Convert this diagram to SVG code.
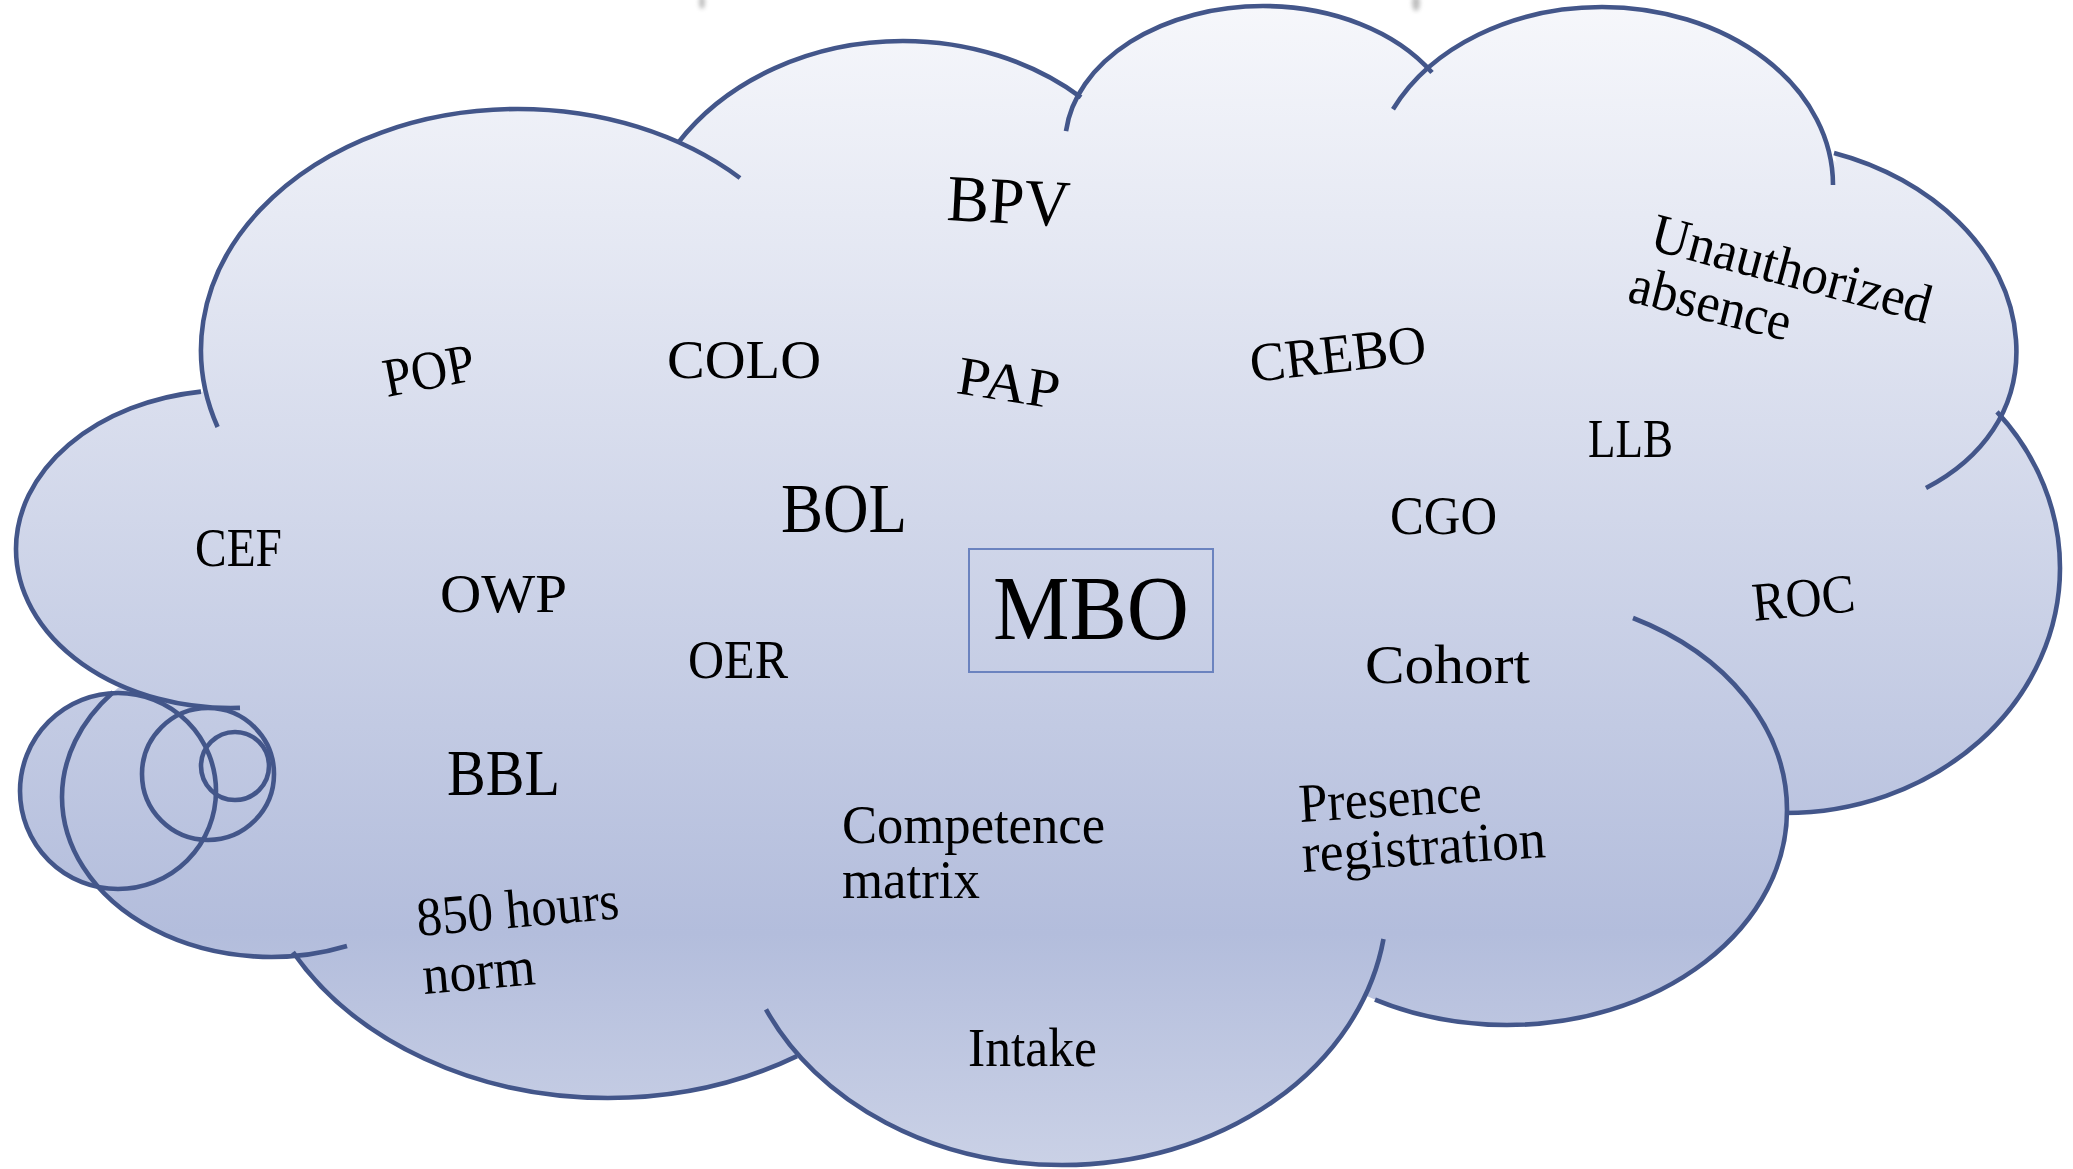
<svg xmlns="http://www.w3.org/2000/svg" width="2073" height="1169" viewBox="0 0 2073 1169">
  <defs>
    <linearGradient id="cloudFill" gradientUnits="userSpaceOnUse" x1="0" y1="7" x2="0" y2="1165">
      <stop offset="0" stop-color="#f6f7fb"/>
      <stop offset="0.8" stop-color="#b3bddc"/>
      <stop offset="1" stop-color="#cad1e6"/>
    </linearGradient>
    <filter id="smudge" x="-2" y="-2" width="5" height="5">
      <feGaussianBlur stdDeviation="2.2"/>
    </filter>
    <style>
      .body { fill: url(#cloudFill); stroke: none; }
      .outline { fill: none; stroke: #43568a; stroke-width: 4.6; }
      .lbl { font-family: "Liberation Serif", "Times New Roman", serif; fill: #000; }
      .std { font-size: 55px; }
    </style>
  </defs>

  <rect width="2073" height="1169" fill="#ffffff"/>

  <!-- faint marks along the top edge -->
  <g fill="#8a8a8a" opacity="0.55" filter="url(#smudge)">
    <ellipse cx="702" cy="2" rx="3" ry="7"/>
    <ellipse cx="1416" cy="3" rx="4" ry="8"/>
  </g>

  <!-- cloud body: lobes plus the centre patch, one shared gradient -->
  <g id="cloud-fill" class="body">
    <polygon points="201,393 740,182 1081,98 1432,73 1833,185 1834,160 2016,344 1993,417 1785,813 1381,939 797,1056 293,952 240,708"/>
    <ellipse cx="518" cy="350" rx="317" ry="241"/>
    <ellipse cx="903" cy="264" rx="268" ry="223"/>
    <ellipse cx="1263" cy="145" rx="198" ry="139"/>
    <ellipse cx="1602" cy="185" rx="231" ry="178"/>
    <path d="M 1834 153 C 1930 178 2010 250 2016 340 C 2021 410 1980 460 1926 488 Z"/>
    <ellipse cx="1785" cy="568" rx="275" ry="245"/>
    <ellipse cx="1507" cy="810" rx="280" ry="215"/>
    <ellipse cx="1062" cy="900" rx="325" ry="265"/>
    <ellipse cx="608" cy="820" rx="358" ry="278"/>
    <ellipse cx="271" cy="797" rx="209" ry="160"/>
    <ellipse cx="231" cy="549" rx="215" ry="159"/>
    <!-- thought bubbles -->
    <circle cx="118" cy="791" r="98"/>
    <circle cx="208" cy="774" r="66"/>
    <circle cx="235" cy="766" r="34"/>
  </g>

  <!-- cloud outline: each lobe arc split at an extreme point of its ellipse -->
  <g id="cloud-outline" class="outline">
    <path d="M 217.6 427 A 317 241 0 0 1 518 109 A 317 241 0 0 1 740 178"/>
    <path d="M 678 142.8 A 268 223 0 0 1 903 41 A 268 223 0 0 1 1081 97.3"/>
    <path d="M 1066 131.05 A 198 139 0 0 1 1263 6 A 198 139 0 0 1 1432 72.6"/>
    <path d="M 1393 109.2 A 231 178 0 0 1 1602 7 A 231 178 0 0 1 1833 185"/>
    <path d="M 1834 153 C 1930 178 2010 250 2016 340 C 2021 410 1980 460 1926 488"/>
    <path d="M 1997 411.9 A 275 245 0 0 1 2060 568 A 275 245 0 0 1 1785 813"/>
    <path d="M 1633 618 A 280 215 0 0 1 1787 810 A 280 215 0 0 1 1507 1025 A 280 215 0 0 1 1375 999.6"/>
    <path d="M 1383.5 939 A 325 265 0 0 1 1062 1165 A 325 265 0 0 1 766 1009.4"/>
    <path d="M 293 952.1 A 358 278 0 0 0 608 1098 A 358 278 0 0 0 797 1056.1"/>
    <path d="M 113 692.3 A 209 160 0 0 0 62 797 A 209 160 0 0 0 347 946"/>
    <path d="M 201 391.6 A 215 159 0 0 0 16 549 A 215 159 0 0 0 240 707.9"/>
  </g>
  <g id="bubbles" class="outline">
    <circle cx="118" cy="791" r="98"/>
    <circle cx="208" cy="774" r="66"/>
    <circle cx="235" cy="766" r="34"/>
  </g>

  <!-- labels -->
  <g id="node-mbo">
    <rect x="969" y="549" width="244" height="123" fill="none" stroke="#6b83bf" stroke-width="2"/>
    <text class="lbl" x="993" y="639" font-size="92" textLength="196" lengthAdjust="spacingAndGlyphs">MBO</text>
  </g>
  <g id="node-bpv">
    <text class="lbl" x="946" y="220" font-size="66" textLength="123" lengthAdjust="spacingAndGlyphs" transform="rotate(3 946 220)">BPV</text>
  </g>
  <g id="node-pap">
    <text class="lbl std" x="955" y="393" textLength="103" lengthAdjust="spacingAndGlyphs" transform="rotate(9 955 393)">PAP</text>
  </g>
  <g id="node-crebo">
    <text class="lbl std" x="1252" y="382" textLength="177" lengthAdjust="spacingAndGlyphs" transform="rotate(-6.5 1252 382)">CREBO</text>
  </g>
  <g id="node-unauthorized-absence">
    <text class="lbl std" x="1648" y="249" textLength="288" lengthAdjust="spacingAndGlyphs" transform="rotate(15 1648 249)">Unauthorized</text>
    <text class="lbl std" x="1626" y="301" textLength="165" lengthAdjust="spacingAndGlyphs" transform="rotate(14 1626 301)">absence</text>
  </g>
  <g id="node-pop">
    <text class="lbl std" x="387" y="397" textLength="92" lengthAdjust="spacingAndGlyphs" transform="rotate(-10.7 387 397)">POP</text>
  </g>
  <g id="node-colo">
    <text class="lbl std" x="667" y="378" textLength="154" lengthAdjust="spacingAndGlyphs">COLO</text>
  </g>
  <g id="node-llb">
    <text class="lbl std" x="1588" y="457" textLength="85" lengthAdjust="spacingAndGlyphs">LLB</text>
  </g>
  <g id="node-bol">
    <text class="lbl" x="781" y="532" font-size="70" textLength="126" lengthAdjust="spacingAndGlyphs">BOL</text>
  </g>
  <g id="node-cgo">
    <text class="lbl std" x="1390" y="534" textLength="107" lengthAdjust="spacingAndGlyphs">CGO</text>
  </g>
  <g id="node-cef">
    <text class="lbl std" x="195" y="566" textLength="87" lengthAdjust="spacingAndGlyphs">CEF</text>
  </g>
  <g id="node-owp">
    <text class="lbl std" x="440" y="612" textLength="127" lengthAdjust="spacingAndGlyphs">OWP</text>
  </g>
  <g id="node-roc">
    <text class="lbl std" x="1754" y="621" textLength="103" lengthAdjust="spacingAndGlyphs" transform="rotate(-5.6 1754 621)">ROC</text>
  </g>
  <g id="node-oer">
    <text class="lbl std" x="688" y="678" textLength="100" lengthAdjust="spacingAndGlyphs">OER</text>
  </g>
  <g id="node-cohort">
    <text class="lbl std" x="1365" y="683" textLength="165" lengthAdjust="spacingAndGlyphs">Cohort</text>
  </g>
  <g id="node-bbl">
    <text class="lbl" x="447" y="795" font-size="66" textLength="113" lengthAdjust="spacingAndGlyphs">BBL</text>
  </g>
  <g id="node-competence-matrix">
    <text class="lbl std" x="842" y="843" textLength="263" lengthAdjust="spacingAndGlyphs">Competence</text>
    <text class="lbl std" x="842" y="898" textLength="138" lengthAdjust="spacingAndGlyphs">matrix</text>
  </g>
  <g id="node-presence-registration">
    <text class="lbl std" x="1300" y="822" textLength="183" lengthAdjust="spacingAndGlyphs" transform="rotate(-3.5 1300 822)">Presence</text>
    <text class="lbl std" x="1303" y="872" textLength="244" lengthAdjust="spacingAndGlyphs" transform="rotate(-3.5 1303 872)">registration</text>
  </g>
  <g id="node-850-hours-norm">
    <text class="lbl std" x="418" y="936" textLength="203" lengthAdjust="spacingAndGlyphs" transform="rotate(-5 418 936)">850 hours</text>
    <text class="lbl std" x="424" y="994" textLength="113" lengthAdjust="spacingAndGlyphs" transform="rotate(-5 424 994)">norm</text>
  </g>
  <g id="node-intake">
    <text class="lbl std" x="968" y="1066" textLength="129" lengthAdjust="spacingAndGlyphs">Intake</text>
  </g>
</svg>
